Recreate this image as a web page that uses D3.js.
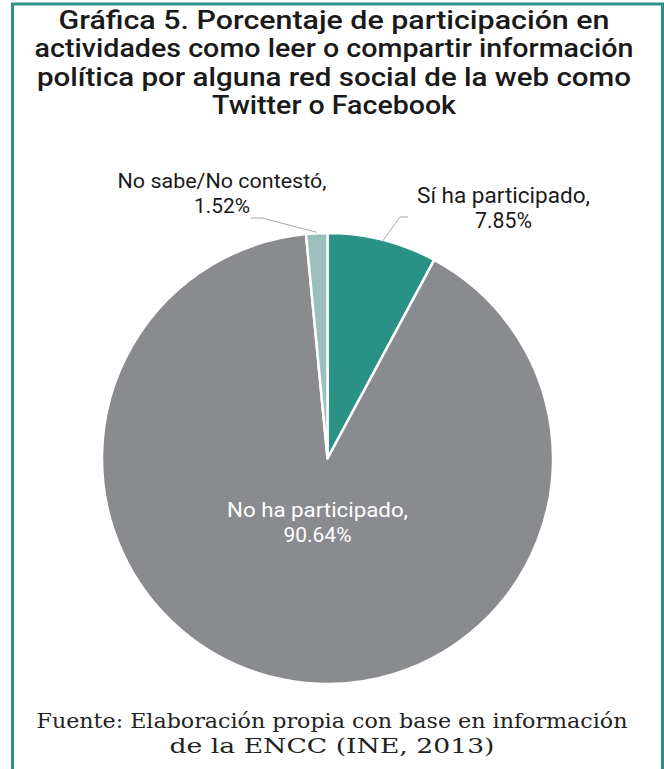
<!DOCTYPE html>
<html><head><meta charset="utf-8">
<script src="https://cdn.jsdelivr.net/npm/d3@7"></script>
<style>body{margin:0;background:#fff}svg{display:block}</style>
</head><body>
<script>
const categories = ["Sí ha participado", "No ha participado", "No sabe/No contestó"];
const values = [7.85, 90.64, 1.52];
const valueLabels = ["7.85%", "90.64%", "1.52%"];
const colors = ["#2a9187", "#8a8b8f", "#9bbfbd"];
const titleLines = ["Gráfica 5. Porcentaje de participación en", "actividades como leer o compartir información", "política por alguna red social de la web como", "Twitter o Facebook"];
const sourceLines = ["Fuente: Elaboración propia con base en información", "de la ENCC (INE, 2013)"];

const W = 664, H = 769;
const svg = d3.select("body").append("svg").attr("width", W).attr("height", H);
svg.append("rect").attr("width", W).attr("height", H).attr("fill", "#fff");
// border
svg.append("path").attr("d", `M12.5,${H+5} V4 H662.5 V${H+5}`).attr("fill", "none").attr("stroke", "#2a9187").attr("stroke-width", 3);
svg.append("line").attr("x1", 14).attr("x2", 661).attr("y1", 5.5).attr("y2", 5.5).attr("stroke", "#9bcfc8").attr("stroke-width", 1);

// fine-tune each line's width to match the reference
function stretch(textSel, targets) {
  textSel.selectAll("tspan").nodes().forEach((n, i) => {
    const len = n.getComputedTextLength();
    if (Math.abs(len - targets[i]) > 1.5) d3.select(n).attr("textLength", targets[i]).attr("lengthAdjust", "spacingAndGlyphs");
  });
}
function fitSize(textSel, targets) {
  const spans = textSel.selectAll("tspan").nodes();
  let ratio = 0;
  spans.forEach((n, i) => { ratio = Math.max(ratio, n.getComputedTextLength() / targets[i]); });
  textSel.attr("font-size", +textSel.attr("font-size") / ratio);
}

const title = svg.append("text").attr("text-anchor", "middle")
  .attr("font-family", "Roboto, 'Liberation Sans', sans-serif").attr("font-weight", 500)
  .attr("font-size", 25).attr("fill", "#1a1a1a");
titleLines.forEach((t, i) => title.append("tspan").attr("x", 334).attr("y", 29 + i * 28.3).text(t));
stretch(title, [551, 599, 594, 244]);

const cx = 327.5, cy = 458.5, r = 225.5;
const pie = d3.pie().sort(null).value(d => d)(values);
const arc = d3.arc().innerRadius(0).outerRadius(r);
const g = svg.append("g").attr("transform", `translate(${cx},${cy})`);
g.selectAll("path").data(pie).join("path")
  .attr("d", arc).attr("fill", (d, i) => colors[i])
  .attr("stroke", "#fff").attr("stroke-width", 2.5).attr("stroke-linejoin", "round");

const lblFont = "Roboto, 'Liberation Sans', sans-serif";
function label(x, y, lines, fill, targets) {
  const t = svg.append("text").attr("text-anchor", "middle").attr("font-family", lblFont)
    .attr("font-size", 19).attr("fill", fill);
  lines.forEach((l, i) => t.append("tspan").attr("x", x).attr("y", y + i * 25).text(l));
  fitSize(t, targets);
  stretch(t, targets);
}
label(503.5, 203, [categories[0] + ",", valueLabels[0]], "#1a1a1a", [173, 57]);
label(317.5, 517, [categories[1] + ",", valueLabels[1]], "#fff", [181, 68]);
label(222, 188, [categories[2] + ",", valueLabels[2]], "#1a1a1a", [209, 56]);

// leader lines
const line = d3.line();
const a0 = (pie[0].startAngle + pie[0].endAngle) / 2;
svg.append("path").attr("d", line([[cx + Math.sin(a0) * (r - 2), cy - Math.cos(a0) * (r - 2)], [400, 217], [408, 217]]))
  .attr("fill", "none").attr("stroke", "#a6a6a6").attr("stroke-width", 1);
const a2 = (pie[2].startAngle + pie[2].endAngle) / 2;
svg.append("path").attr("d", line([[251, 218], [262, 218], [cx + Math.sin(a2) * (r + 1), cy - Math.cos(a2) * (r + 1)]]))
  .attr("fill", "none").attr("stroke", "#a6a6a6").attr("stroke-width", 1);

const src = svg.append("text").attr("text-anchor", "middle")
  .attr("font-family", "'DejaVu Serif', 'Liberation Serif', serif").attr("font-size", 19.5).attr("fill", "#222");
sourceLines.forEach((t, i) => src.append("tspan").attr("x", 332).attr("y", 728 + i * 25).text(t));
stretch(src, [591, 325]);
</script>
</body></html>
